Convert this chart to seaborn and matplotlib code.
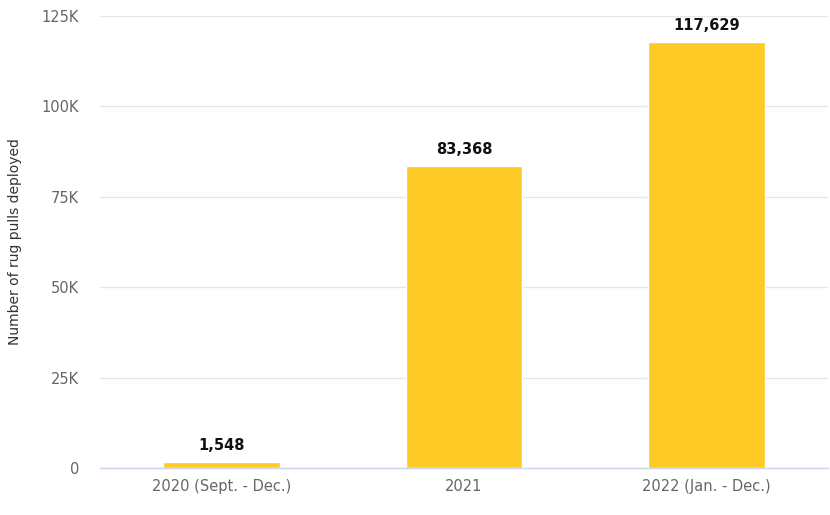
import matplotlib
matplotlib.use("Agg")
import matplotlib.pyplot as plt
import seaborn as sns
import pandas as pd

categories = ["2020 (Sept. - Dec.)", "2021", "2022 (Jan. - Dec.)"]
values = [1548, 83368, 117629]
yticks = [0, 25000, 50000, 75000, 100000, 125000]
ytick_labels = ["0", "25K", "50K", "75K", "100K", "125K"]

sns.set_theme(style="white")
plt.rcParams['font.family'] = ['DejaVu Sans']
plt.rcParams['font.sans-serif'] = ['DejaVu Sans']

df = pd.DataFrame({"cat": categories, "val": values})

fig = plt.figure(figsize=(8.3, 5.15), dpi=100)
ax = fig.add_axes([0.1205, 0.0913, 0.877, 0.878])
sns.barplot(data=df, x="cat", y="val", color="#FECB26", width=0.48, ax=ax, saturation=1)

ax.set_ylim(0, 125000)
ax.set_yticks(yticks)
ax.set_yticklabels(ytick_labels)
ax.set_xlim(-0.5, 2.5)
ax.yaxis.grid(True, color="#e6e6e6", linewidth=1)
ax.set_axisbelow(True)
for s in ["top", "right", "left"]:
    ax.spines[s].set_visible(False)
ax.spines["bottom"].set_color("#ccd6eb")
ax.spines["bottom"].set_linewidth(1)
ax.tick_params(axis="both", colors="#666666", labelsize=10.5, length=0)
ax.tick_params(axis="y", pad=15)
ax.tick_params(axis="x", pad=8)
ax.set_xlabel("")
ax.set_ylabel("Number of rug pulls deployed", fontsize=10, color="#333333", labelpad=14)

for i, v in enumerate(values):
    ax.annotate(f"{v:,}", (i, v), xytext=(0, 7), textcoords="offset points",
                ha="center", va="bottom", fontsize=10.5, fontweight="bold", color="#111111")

fig.savefig("out.png", dpi=100)
